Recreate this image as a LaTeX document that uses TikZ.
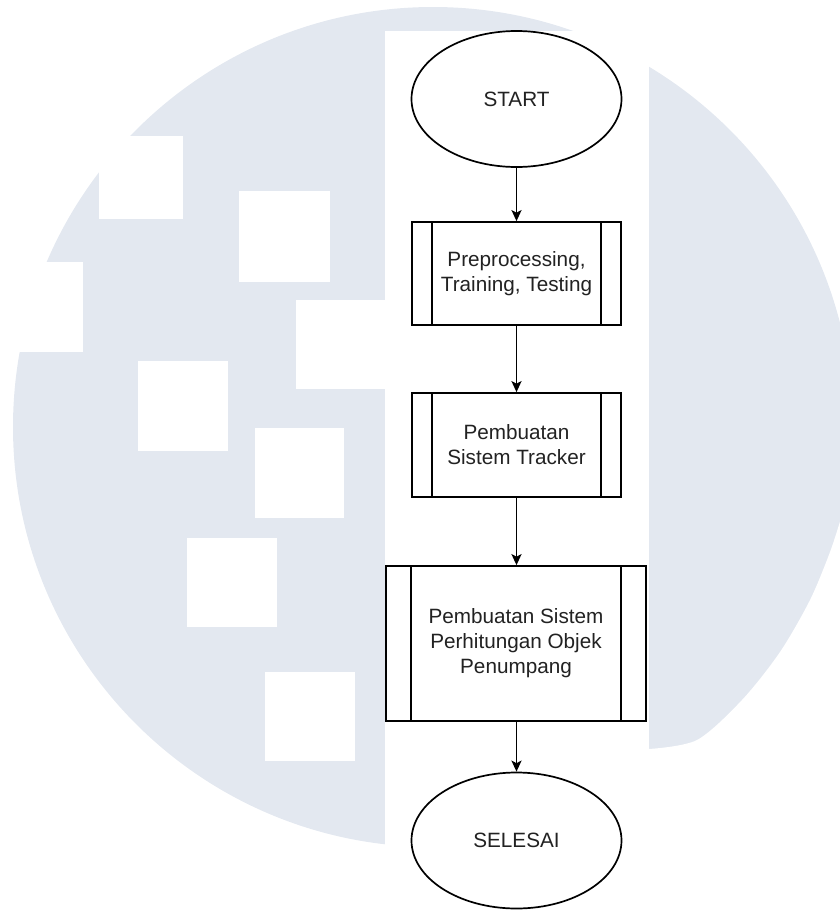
\documentclass[tikz,border=0pt]{standalone}
\usepackage{fontspec}
\setmainfont{Liberation Sans}
\usetikzlibrary{shapes.geometric,arrows.meta,calc}
\definecolor{bgc}{HTML}{E3E8F0}
\definecolor{txt}{HTML}{222222}
\begin{document}
\begin{tikzpicture}[x=1pt,y=-1pt,
  lbl/.style={font=\fontsize{20.7}{25}\selectfont,text=txt,align=center},
  term/.style={lbl,ellipse,draw,line width=1.7pt,minimum width=210pt,minimum height=136pt,inner sep=0pt},
  proc/.style={lbl,rectangle,draw,line width=1.7pt,inner sep=0pt},
  arr/.style={line width=1.7pt,-{Stealth[length=11pt,width=10pt,inset=2.5pt]}},
  sq/.style={fill=white,draw=none}]
\useasboundingbox (0,0) rectangle (840,911);
% watermark background
\fill[bgc] (433,427) circle[radius=420pt];
\fill[white] plot[smooth] coordinates {(649,749) (697,740) (742,700) (780,652) (810,600) (830,552) (842,515)} -- (842,911) -- (649,911) -- cycle;
\fill[sq] (99,136) rectangle (183,219);
\fill[sq] (239,191) rectangle (330,282);
\fill[sq] (0,262) rectangle (83,352);
\fill[sq] (296,300) rectangle (385,389);
\fill[sq] (138,361) rectangle (228,451);
\fill[sq] (255,428) rectangle (344,518);
\fill[sq] (187,538) rectangle (277,627);
\fill[sq] (265,672) rectangle (355,761);
\fill[white] (385,31) rectangle (649,911);
% flowchart
\node[term] (s) at (516.5,99) {START};
\node[proc,minimum width=209pt,minimum height=103pt] (p1) at (516.5,273.5) {Preprocessing,\\Training, Testing};
\node[proc,minimum width=209pt,minimum height=104pt] (p2) at (516.5,445) {Pembuatan\\Sistem Tracker};
\node[proc,minimum width=260pt,minimum height=155pt] (p3) at (516,643.5) {Pembuatan Sistem\\Perhitungan Objek\\Penumpang};
\node[term] (e) at (516.5,840.5) {SELESAI};
\foreach \n/\d in {p1/21,p2/21,p3/26}{
  \draw[line width=1.7pt] ($(\n.north west)+(\d,0)$) -- ($(\n.south west)+(\d,0)$);
  \draw[line width=1.7pt] ($(\n.north east)+(-\d,0)$) -- ($(\n.south east)+(-\d,0)$);
}
\draw[arr] (s) -- (p1);
\draw[arr] (p1) -- (p2);
\draw[arr] (p2) -- (p3.north -| p2.south);
\draw[arr] (p3.south -| e.north) -- (e);
\end{tikzpicture}
\end{document}
